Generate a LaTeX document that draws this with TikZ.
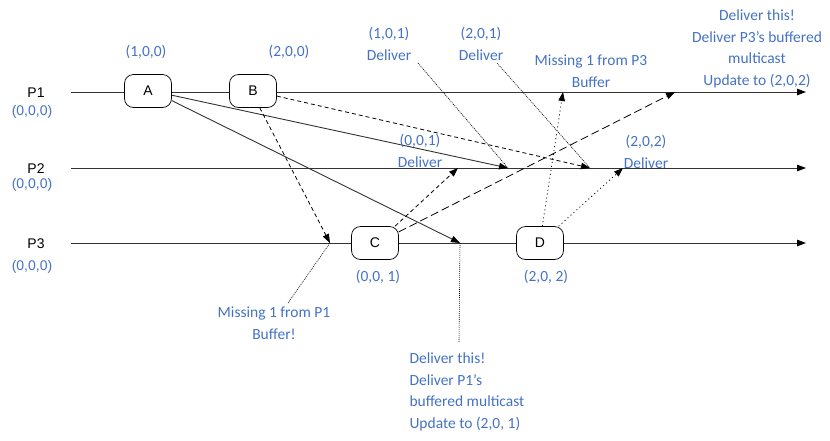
\documentclass[tikz,border=0pt]{standalone}
\usepackage{fontspec}
\setmainfont{Carlito}
\newfontfamily\arialf{Liberation Sans}
\usetikzlibrary{arrows.meta}
\definecolor{noteblue}{HTML}{4472C4}
\definecolor{linegray}{HTML}{333333}
\tikzset{
  tip/.style={-{Triangle[length=9pt,width=6.5pt,color=black]}},
  timeline/.style={draw=linegray, line width=0.9pt, tip},
  event/.style={draw=black, line width=0.7pt, rounded corners=9pt, minimum width=47pt, minimum height=33pt, font=\arialf\fontsize{14}{16}\selectfont, fill=white},
  proc/.style={font=\arialf\fontsize{14}{16}\selectfont, text=black},
  vc/.style={font=\arialf\fontsize{14}{16}\selectfont, text=noteblue},
  note/.style={font=\fontsize{15.5}{21.5}\selectfont, text=noteblue, align=center},
  msgsolid/.style={draw=linegray, line width=0.9pt, tip},
  msgdash/.style={draw=black, line width=0.8pt, dash pattern=on 4pt off 3pt, tip},
  msglong/.style={draw=black, line width=0.8pt, dash pattern=on 8pt off 4pt, tip},
  msgdot/.style={draw=black, line width=0.8pt, dash pattern=on 1pt off 3pt, tip},
  pointer/.style={draw=black, line width=0.6pt, dash pattern=on 1pt off 1pt}
}
\begin{document}
\begin{tikzpicture}[x=1pt,y=-1pt]
\useasboundingbox (0,0) rectangle (830,440);
% process labels
\node[proc] (p1) at (36,93) {P1};
\node[vc] (p1v) at (32,112) {(0,0,0)};
\node[proc] (p2) at (36,169) {P2};
\node[vc] (p2v) at (32,185) {(0,0,0)};
\node[proc] (p3) at (36,244) {P3};
\node[vc] (p3v) at (32,267) {(0,0,0)};
% timelines
\coordinate (l1s) at (71,92); \coordinate (l1e) at (806,92);
\coordinate (l2s) at (71,168); \coordinate (l2e) at (806,168);
\coordinate (l3s) at (71,243); \coordinate (l3e) at (806,243);
\draw[timeline] (l1s) -- (l1e);
\draw[timeline] (l2s) -- (l2e);
\draw[timeline] (l3s) -- (l3e);
% events
\node[event] (A) at (148,91) {A};
\node[event] (B) at (253,91) {B};
\node[event] (C) at (375,243) {C};
\node[event] (D) at (540,243) {D};
% receive points
\coordinate (a2) at (508,168);
\coordinate (a3) at (460,243);
\coordinate (b2) at (590,168);
\coordinate (b3) at (330,243);
\coordinate (c2) at (458,168);
\coordinate (c1) at (675,92);
\coordinate (d1) at (563,92);
\coordinate (d2) at (623,168);
% messages
\draw[msgsolid] (A.-10) -- (a2);
\draw[msgsolid] (A.-22) -- (a3);
\draw[msgdash] (B.-12) -- (b2);
\draw[msgdash] (B.-68) -- (b3);
\draw[msgdash] (C.40) -- (c2);
\draw[msglong] (C.25) -- (c1);
\draw[msgdot] (D.82) -- (d1);
\draw[msgdot] (D.42) -- (d2);
% vector clock labels
\node[note] (va) at (146,52) {(1,0,0)};
\node[note] (vb) at (289,52) {(2,0,0)};
\node[note] (vc) at (378,277) {(0,0, 1)};
\node[note] (vd) at (546,277) {(2,0, 2)};
% annotations
\node[note] (n1) at (389,44) {(1,0,1)\\Deliver};
\node[note] (n2) at (481,44) {(2,0,1)\\Deliver};
\node[note] (n3) at (591,71) {Missing 1 from P3\\Buffer};
\node[note] (n4) at (757,49) {Deliver this!\\Deliver P3’s buffered\\multicast\\Update to (2,0,2)};
\node[note] (n5) at (420,151) {(0,0,1)\\Deliver};
\node[note] (n6) at (646,152) {(2,0,2)\\Deliver};
\node[note] (n7) at (274,323) {Missing 1 from P1\\Buffer!};
\node[note, align=left, anchor=west] (n8) at (406,392) {Deliver this!\\Deliver P1’s\\buffered multicast\\Update to (2,0, 1)};
% pointer lines
\coordinate (q1) at (418,63);
\coordinate (q2) at (497,63);
\coordinate (q3) at (288,303);
\coordinate (q4) at (459,342);
\draw[pointer] (q1) -- (a2);
\draw[pointer] (q2) -- (b2);
\draw[pointer] (q3) -- (b3);
\draw[pointer] (a3) -- (q4);
\end{tikzpicture}
\end{document}
